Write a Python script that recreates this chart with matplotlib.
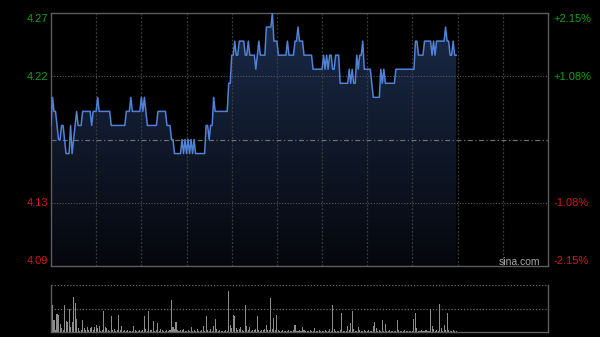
import numpy as np
import matplotlib
matplotlib.use("Agg")
import matplotlib.pyplot as plt
from matplotlib.patches import Polygon
from matplotlib.colors import LinearSegmentedColormap

plt.rcParams['font.family'] = ['Liberation Sans', 'DejaVu Sans']

# previous close and one price per minute
prev_close = 4.18
prices = [
    4.19, 4.21, 4.20, 4.20, 4.19, 4.18, 4.18, 4.19, 4.19, 4.18,
    4.17, 4.17, 4.17, 4.19, 4.17, 4.18, 4.19, 4.20, 4.19, 4.19,
    4.19, 4.20, 4.20, 4.20, 4.20, 4.20, 4.20, 4.19, 4.20, 4.20,
    4.20, 4.21, 4.20, 4.20, 4.20, 4.20, 4.20, 4.20, 4.20, 4.20,
    4.19, 4.19, 4.19, 4.19, 4.19, 4.19, 4.19, 4.19, 4.19, 4.19,
    4.20, 4.20, 4.20, 4.21, 4.20, 4.20, 4.20, 4.20, 4.20, 4.20,
    4.21, 4.20, 4.21, 4.20, 4.19, 4.19, 4.19, 4.19, 4.19, 4.19,
    4.19, 4.20, 4.20, 4.20, 4.20, 4.20, 4.20, 4.19, 4.19, 4.19,
    4.18, 4.18, 4.17, 4.17, 4.17, 4.17, 4.17, 4.18, 4.17, 4.18,
    4.17, 4.18, 4.17, 4.18, 4.17, 4.18, 4.17, 4.17, 4.17, 4.17,
    4.17, 4.17, 4.17, 4.19, 4.19, 4.18, 4.19, 4.19, 4.21, 4.20,
    4.20, 4.20, 4.20, 4.20, 4.20, 4.20, 4.20, 4.20, 4.22, 4.22,
    4.24, 4.24, 4.25, 4.24, 4.24, 4.25, 4.25, 4.25, 4.25, 4.24,
    4.24, 4.25, 4.24, 4.24, 4.24, 4.24, 4.23, 4.24, 4.25, 4.24,
    4.24, 4.24, 4.24, 4.26, 4.26, 4.26, 4.26, 4.27, 4.25, 4.25,
    4.25, 4.24, 4.24, 4.24, 4.24, 4.24, 4.24, 4.25, 4.24, 4.24,
    4.24, 4.24, 4.25, 4.25, 4.26, 4.25, 4.25, 4.25, 4.24, 4.24,
    4.24, 4.24, 4.24, 4.24, 4.23, 4.23, 4.23, 4.23, 4.23, 4.23,
    4.23, 4.24, 4.23, 4.24, 4.23, 4.24, 4.24, 4.23, 4.23, 4.24,
    4.24, 4.24, 4.22, 4.22, 4.22, 4.22, 4.22, 4.22, 4.23, 4.22,
    4.23, 4.22, 4.22, 4.24, 4.23, 4.24, 4.24, 4.25, 4.23, 4.23,
    4.23, 4.23, 4.23, 4.22, 4.21, 4.21, 4.21, 4.21, 4.21, 4.23,
    4.22, 4.23, 4.22, 4.22, 4.22, 4.22, 4.22, 4.22, 4.22, 4.23,
    4.23, 4.23, 4.23, 4.23, 4.23, 4.23, 4.23, 4.23, 4.23, 4.23,
    4.23, 4.23, 4.25, 4.25, 4.24, 4.24, 4.24, 4.24, 4.25, 4.25,
    4.25, 4.25, 4.25, 4.24, 4.25, 4.24, 4.25, 4.25, 4.25, 4.25,
    4.25, 4.25, 4.26, 4.25, 4.25, 4.24, 4.24, 4.25, 4.24, 4.24,
]

# volume per minute, relative units (first bar = 100)
volumes = [
    100, 57, 26, 5, 38, 36, 18, 8, 4, 57,
    24, 22, 50, 11, 22, 75, 62, 27, 8, 3,
    4, 26, 8, 4, 11, 5, 8, 10, 4, 11,
    15, 8, 12, 3, 4, 45, 10, 8, 5, 3,
    33, 4, 6, 3, 4, 36, 4, 13, 3, 5,
    2, 4, 3, 3, 3, 13, 4, 3, 2, 4,
    3, 4, 33, 6, 3, 45, 5, 4, 23, 3,
    4, 20, 3, 6, 4, 3, 2, 4, 3, 5,
    68, 10, 6, 22, 4, 3, 5, 4, 6, 3,
    3, 4, 2, 10, 3, 4, 2, 6, 3, 2,
    4, 13, 3, 33, 5, 3, 6, 2, 12, 27,
    6, 3, 4, 2, 3, 2, 5, 3, 88, 15,
    8, 36, 34, 8, 5, 6, 10, 4, 3, 57,
    12, 4, 10, 3, 4, 5, 6, 33, 4, 3,
    4, 5, 6, 15, 4, 5, 72, 6, 29, 5,
    36, 4, 3, 2, 4, 3, 2, 3, 4, 2,
    3, 4, 15, 3, 2, 4, 3, 10, 4, 2,
    3, 2, 4, 3, 2, 8, 3, 2, 5, 3,
    2, 3, 4, 2, 3, 6, 3, 57, 6, 2,
    3, 2, 4, 41, 3, 2, 3, 13, 4, 20,
    45, 6, 3, 2, 11, 4, 2, 3, 5, 2,
    3, 4, 2, 3, 13, 21, 9, 3, 5, 2,
    26, 3, 18, 2, 3, 4, 2, 3, 2, 3,
    26, 5, 2, 3, 2, 4, 3, 2, 3, 2,
    3, 27, 41, 8, 3, 2, 5, 3, 2, 4,
    3, 2, 50, 12, 6, 3, 4, 2, 60, 8,
    3, 15, 4, 40, 5, 3, 2, 4, 3, 2,
]

left_labels = ['4.27', '4.22', '4.13', '4.09']
right_labels = ['+2.15%', '+1.08%', '-1.08%', '-2.15%']
label_rows = [19, 77, 203, 261]   # pixel rows of the labels
label_colors = ['#10a010', '#10a010', '#d01818', '#d01818']

minutes = np.arange(len(prices))
total_minutes = 330
ymin, ymax = 4.09, 4.27
half = (ymax - ymin) / 4

fig = plt.figure(figsize=(6, 3.37), dpi=100, facecolor='black')
W, H = 600, 337

ax = fig.add_axes([51 / W, 1 - 266 / H, 497 / W, 253 / H])
ax.set_facecolor('black')

# gradient under the price line
verts = [(0, ymin)] + list(zip(minutes, prices)) + [(minutes[-1], ymin)]
poly = Polygon(verts, closed=True, facecolor='none', edgecolor='none')
ax.add_patch(poly)
cmap = LinearSegmentedColormap.from_list('fill', ['#05070c', '#1b2b4a'])
grad = np.linspace(1, 0, 256).reshape(-1, 1)
im = ax.imshow(grad, cmap=cmap, extent=[0, total_minutes, ymin, ymax],
               aspect='auto', zorder=1)
im.set_clip_path(poly)

# grid
for m in range(30, total_minutes, 30):
    ax.axvline(m, color='#3c3c3c', lw=0.9, ls=(0, (1.5, 1.5)), zorder=2)
for lv in [prev_close + half, prev_close - half]:
    ax.axhline(lv, color='#5a5a5a', lw=0.8, ls=(0, (1, 1.5)), zorder=2)
ax.axhline(prev_close, color='#6e6e6e', lw=0.9, ls=(0, (4, 2, 1, 2)), zorder=2)

ax.plot(minutes, prices, color='#4f82d8', lw=1.1, zorder=3)

ax.set_xlim(0, total_minutes)
ax.set_ylim(ymin, ymax)
ax.set_xticks([])
ax.set_yticks([])
for s in ax.spines.values():
    s.set_color('#5c5c5c')
    s.set_linewidth(1.0)

for lab, rlab, row, col in zip(left_labels, right_labels, label_rows, label_colors):
    fig.text(48 / W, 1 - row / H, lab, color=col, fontsize=8,
             ha='right', va='center')
    fig.text(553 / W, 1 - row / H, rlab, color=col, fontsize=8,
             ha='left', va='center')

fig.text(499 / W, 1 - 262 / H, 'sina.com', color='#a8a8a8', fontsize=7.5,
         ha='left', va='center')

# volume panel
vax = fig.add_axes([51 / W, 1 - 332 / H, 497 / W, 47 / H])
vax.set_facecolor('black')
vax.bar(minutes, volumes, width=0.7, color='#8c8c8c', zorder=2)
vax.set_xlim(0, total_minutes)
vax.set_ylim(0, 100)
vax.axhline(100, color='#6a6a6a', lw=0.9, ls=(0, (1, 1.5)), zorder=1)
vax.axhline(50, color='#6a6a6a', lw=0.9, ls=(0, (1, 1.5)), zorder=1)
vax.set_xticks([])
vax.set_yticks([])
vax.spines['top'].set_visible(False)
for side in ['left', 'right', 'bottom']:
    vax.spines[side].set_color('#5c5c5c')
    vax.spines[side].set_linewidth(1.0)

fig.savefig('out.png', dpi=100, facecolor='black')
